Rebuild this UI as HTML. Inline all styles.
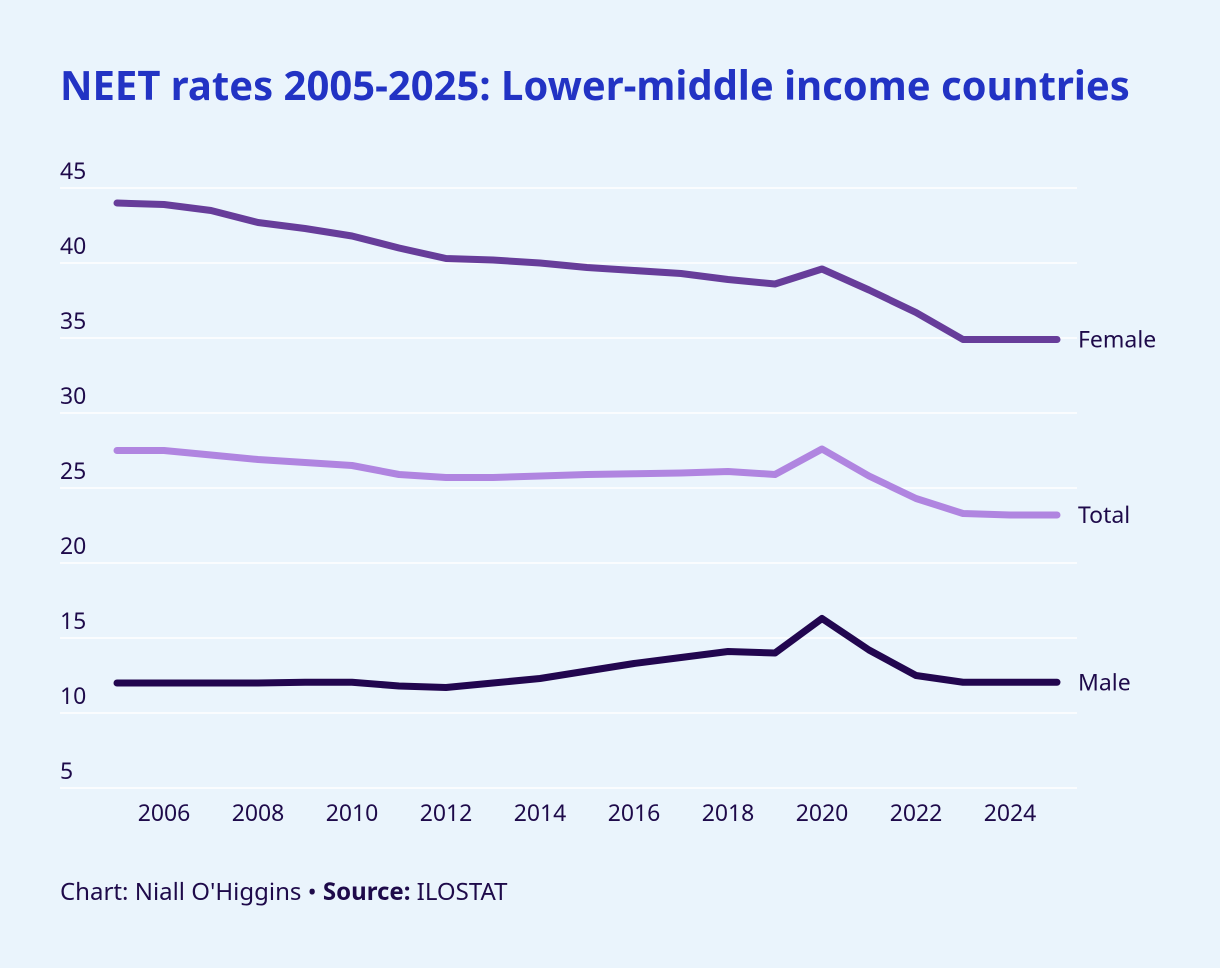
<!DOCTYPE html>
<html><head><meta charset="utf-8"><style>
body{margin:0;background:#eaf4fc;font-family:"Noto Sans","DejaVu Sans","Liberation Sans",sans-serif;overflow:hidden;}
svg{display:block;}
svg text{font-family:"Noto Sans","DejaVu Sans","Liberation Sans",sans-serif;}
</style></head><body>
<svg width="1220" height="968">
<rect width="1220" height="968" fill="#eaf4fc"/>
<text x="60" y="100" font-size="40" font-weight="bold" fill="#2233c4">NEET rates 2005-2025: Lower-middle income countries</text>
<g id="grid"></g><g id="lines"></g>
<text x="60" y="900" font-size="24" fill="#1e0a4a">Chart: Niall O'Higgins • <tspan font-weight="bold">Source:</tspan> ILOSTAT</text>
</svg>
<script>
const years=[2005,2006,2007,2008,2009,2010,2011,2012,2013,2014,2015,2016,2017,2018,2019,2020,2021,2022,2023,2024,2025];
const female=[44.0,43.9,43.5,42.7,42.3,41.8,41.0,40.3,40.2,40.0,39.7,39.5,39.3,38.9,38.6,39.6,38.2,36.7,34.9,34.9,34.9];
const total=[27.5,27.5,27.2,26.9,26.7,26.5,25.9,25.7,25.7,25.8,25.9,25.95,26.0,26.1,25.9,27.6,25.8,24.3,23.3,23.2,23.2];
const male=[12.0,12.0,12.0,12.0,12.05,12.05,11.8,11.7,12.0,12.3,12.8,13.3,13.7,14.1,14.0,16.3,14.2,12.5,12.05,12.05,12.05];
const yTicks=[5,10,15,20,25,30,35,40,45];
const xTicks=[2006,2008,2010,2012,2014,2016,2018,2020,2022,2024];
const NS='http://www.w3.org/2000/svg';
const x=v=>117+(v-2005)*47;
const y=v=>788-(v-5)*15;
const grid=document.getElementById('grid'),lines=document.getElementById('lines');
function mk(tag,attrs,parent,txt){const e=document.createElementNS(NS,tag);for(const k in attrs)e.setAttribute(k,attrs[k]);if(txt!==undefined)e.textContent=txt;parent.appendChild(e);return e;}
yTicks.forEach(t=>{
 const l=mk('line',{x1:60,x2:1077,y1:y(t),y2:y(t),stroke:'#ffffff','stroke-width':1.5},grid);
 
 
 const tx=mk('text',{x:60,y:y(t)-9,'font-size':23,fill:'#1e0a4a'},grid,String(t));
 
 
});
xTicks.forEach(t=>{
 const tx=mk('text',{x:x(t),y:821,'font-size':23,fill:'#1e0a4a','text-anchor':'middle'},grid,String(t));
 
 
});
[[female,'#673d9a','Female'],[total,'#b085e0','Total'],[male,'#22064f','Male']].forEach(([d,c,n])=>{
 const p=mk('polyline',{points:d.map((v,i)=>x(years[i])+','+y(v)).join(' '),fill:'none',stroke:c,'stroke-width':7,'stroke-linejoin':'round','stroke-linecap':'round'},lines);
 
 
 const tx=mk('text',{x:1078,y:y(d[d.length-1])+8,'font-size':23,fill:'#1e0a4a'},lines,n);
 
 
});
</script>
</body></html>
